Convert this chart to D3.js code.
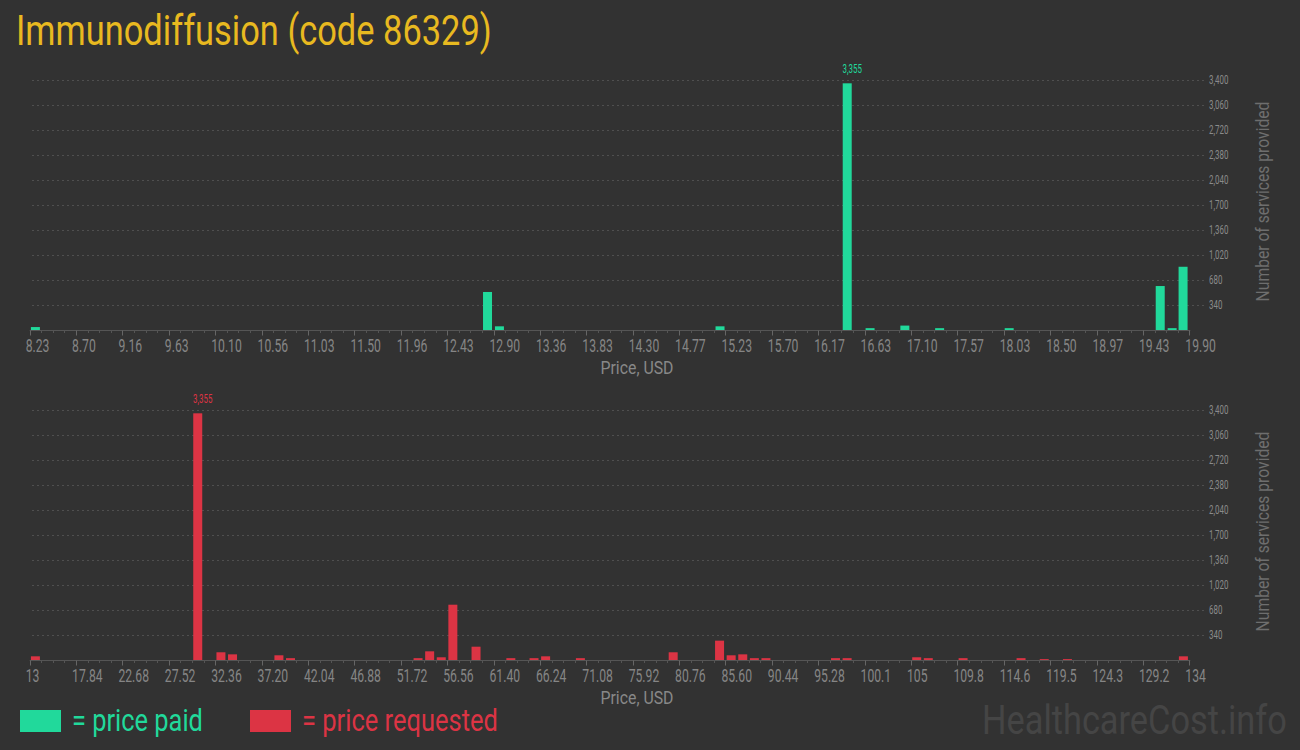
<!DOCTYPE html>
<html>
<head>
<meta charset="utf-8">
<script src="https://cdn.jsdelivr.net/npm/d3@7"></script>
<style>
  html, body { margin: 0; padding: 0; background: #323232; }
  svg { display: block; }
  text { font-family: Roboto, "Noto Sans", sans-serif; }
</style>
</head>
<body>
<svg id="chart" width="1300" height="750"></svg>
<script>
// ---------------- data ----------------
const titleText = "Immunodiffusion (code 86329)";
const paidTickLabels = ["8.23","8.70","9.16","9.63","10.10","10.56","11.03","11.50","11.96","12.43","12.90","13.36","13.83","14.30","14.77","15.23","15.70","16.17","16.63","17.10","17.57","18.03","18.50","18.97","19.43","19.90"];
const paidDomain = [8.23, 19.90];
const paidPrices = [8.23, 12.78, 12.90, 15.12, 16.40, 16.63, 16.98, 17.33, 18.03, 19.55, 19.67, 19.78];
const paidCounts = [40, 517, 50, 50, 3355, 25, 60, 25, 25, 598, 25, 860];

const requestedTickLabels = ["13","17.84","22.68","27.52","32.36","37.20","42.04","46.88","51.72","56.56","61.40","66.24","71.08","75.92","80.76","85.60","90.44","95.28","100.1","105","109.8","114.6","119.5","124.3","129.2","134"];
const requestedDomain = [13, 134];
const requestedPrices = [13.00, 29.94, 32.36, 33.57, 38.41, 39.62, 52.93, 54.14, 55.35, 56.56, 58.98, 62.61, 65.03, 66.24, 69.87, 79.55, 84.39, 85.60, 86.81, 88.02, 89.23, 96.49, 97.70, 104.96, 106.17, 109.80, 115.85, 118.27, 120.69, 132.79];
const requestedCounts = [50, 3355, 105, 77, 64, 25, 25, 118, 37, 752, 181, 25, 25, 50, 25, 105, 263, 64, 77, 25, 25, 25, 25, 37, 25, 25, 25, 12, 12, 50];

const yTickValues = [340, 680, 1020, 1360, 1700, 2040, 2380, 2720, 3060, 3400];
const binCount = 100;

// ---------------- style ----------------
const GREEN = "#21d99b";
const RED = "#dc3444";
const BG = "#323232";
const svg = d3.select("#chart");
svg.append("rect").attr("width", 1300).attr("height", 750).attr("fill", BG);

// helper: draw text squeezed horizontally to a target width
function fitText(sel, targetW, anchor) {
  const w = sel.node().getComputedTextLength();
  const k = targetW / w;
  const tx = +sel.attr("data-x"), ty = +sel.attr("data-y");
  const shift = anchor === "end" ? -targetW : 0;
  sel.attr("transform", `translate(${tx + shift},${ty}) scale(${k},1)`);
  return sel;
}

// title
fitText(svg.append("text")
  .attr("data-x", 16).attr("data-y", 45)
  .attr("font-size", 42)
  .attr("fill", "#e8b920")
  .text(titleText), 476);

const fmt = d3.format(",");

function drawPanel(opts) {
  const x0 = 29.7, x1 = 1189.3;
  const yBase = opts.baseY, yTop = opts.baseY - 250;
  const x = d3.scaleLinear().domain(opts.domain).range([x0, x1]);
  const y = d3.scaleLinear().domain([0, 3400]).range([yBase, yTop]);
  const binW = (opts.domain[1] - opts.domain[0]) / binCount;
  const g = svg.append("g");

  // gridlines
  g.selectAll("line.grid").data(opts.yTicks).enter().append("line")
    .attr("x1", 32).attr("x2", 1205)
    .attr("y1", d => Math.round(y(d)) + 0.5).attr("y2", d => Math.round(y(d)) + 0.5)
    .attr("stroke", "#4f4f4f").attr("stroke-width", 1)
    .attr("stroke-dasharray", "2,3");

  // y tick labels (right side)
  g.selectAll("text.ytick").data(opts.yTicks).enter().append("text")
    .attr("transform", d => `translate(1209,${y(d) + 4}) scale(0.66,1)`)
    .attr("font-size", 12).attr("fill", "#8a8a8a")
    .text(d => fmt(d));

  // y axis title
  g.append("text")
    .attr("transform", `translate(1269,${yBase - 128.5}) rotate(-90) scale(0.87,1)`)
    .attr("text-anchor", "middle")
    .attr("font-size", 18).attr("fill", "#6e6e6e")
    .text("Number of services provided");

  // bars
  g.selectAll("rect.bar").data(opts.prices.map((p, i) => ({p, c: opts.counts[i]}))).enter().append("rect")
    .attr("x", d => x(d.p) + 1.2)
    .attr("width", d => x(d.p + binW) - x(d.p) - 2.6)
    .attr("y", d => y(d.c))
    .attr("height", d => yBase - y(d.c))
    .attr("fill", opts.color);

  // max label
  const maxI = d3.maxIndex(opts.counts);
  g.append("text")
    .attr("transform", `translate(${x(opts.prices[maxI]) + 1},${y(opts.counts[maxI]) - 10}) scale(0.66,1)`)
    .attr("font-size", 12).attr("fill", opts.color)
    .text(fmt(opts.counts[maxI]));

  // x axis
  const majorVals = d3.range(opts.tickLabels.length).map(i => opts.domain[0] + i * (opts.domain[1] - opts.domain[0]) / (opts.tickLabels.length - 1));
  const minorVals = d3.range(binCount + 1).map(i => opts.domain[0] + i * binW);
  const axisG = g.append("g").attr("transform", `translate(0,${yBase + 0.5})`);
  axisG.append("line").attr("x1", x0).attr("x2", x1 + 1).attr("stroke", "#555").attr("stroke-width", 1);
  axisG.selectAll("line.minor").data(minorVals).enter().append("line")
    .attr("x1", d => Math.round(x(d)) + 0.5).attr("x2", d => Math.round(x(d)) + 0.5)
    .attr("y1", 0).attr("y2", 2.5).attr("stroke", "#555");
  axisG.selectAll("line.major").data(majorVals).enter().append("line")
    .attr("x1", d => Math.round(x(d)) + 0.5).attr("x2", d => Math.round(x(d)) + 0.5)
    .attr("y1", 0).attr("y2", 5).attr("stroke", "#666");
  axisG.selectAll("text.xtick").data(majorVals).enter().append("text")
    .attr("transform", d => `translate(${x(d) - 4},21.5) scale(0.64,1)`)
    .attr("font-size", 19).attr("fill", "#858585")
    .text((d, i) => opts.tickLabels[i]);

  // x axis title
  g.append("text")
    .attr("transform", `translate(637,${yBase + 44}) scale(0.88,1)`)
    .attr("text-anchor", "middle")
    .attr("font-size", 18).attr("fill", "#888")
    .text("Price, USD");
}

drawPanel({domain: paidDomain, tickLabels: paidTickLabels, prices: paidPrices, counts: paidCounts, color: GREEN, baseY: 330, yTicks: yTickValues});
drawPanel({domain: requestedDomain, tickLabels: requestedTickLabels, prices: requestedPrices, counts: requestedCounts, color: RED, baseY: 660, yTicks: yTickValues});

// legend
const legend = [
  {label: "= price paid", color: GREEN, x: 20, w: 131},
  {label: "= price requested", color: RED, x: 250, w: 196}
];
legend.forEach(l => {
  svg.append("rect").attr("x", l.x).attr("y", 710).attr("width", 41).attr("height", 22).attr("fill", l.color);
  fitText(svg.append("text").attr("data-x", l.x + 52).attr("data-y", 731)
    .attr("font-size", 31).attr("fill", l.color)
    .text(l.label), l.w);
});

// watermark
fitText(svg.append("text")
  .attr("data-x", 1287).attr("data-y", 734)
  .attr("font-size", 40).attr("fill", "#454545")
  .text("HealthcareCost.info"), 305, "end");
</script>
</body>
</html>
